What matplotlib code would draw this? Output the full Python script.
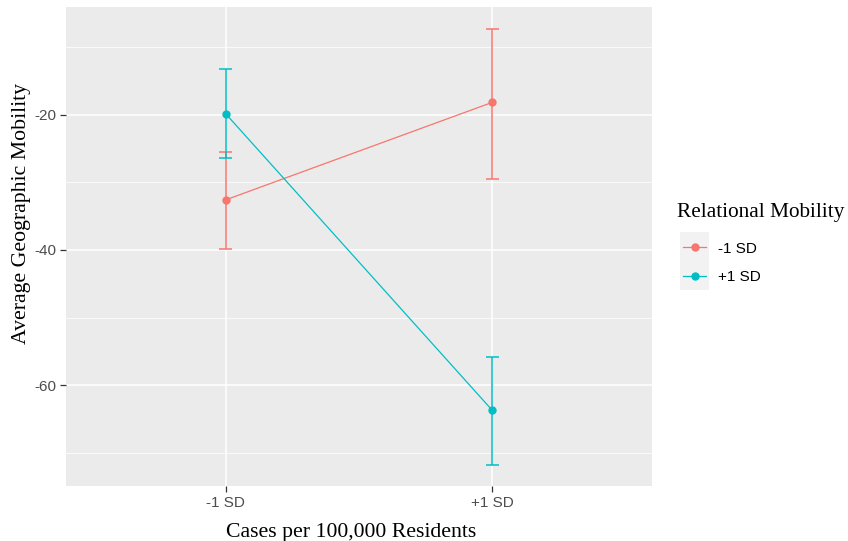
import matplotlib.pyplot as plt
import matplotlib.patches as mpatches
import numpy as np

plt.rcParams['axes.unicode_minus'] = False

# interaction plot: geographic mobility by cases and relational mobility
cases = ['-1 SD', '+1 SD']
groups = ['-1 SD', '+1 SD']
colors = ['#F8766D', '#00BFC4']

means = {
    '-1 SD': [-32.6, -18.2],
    '+1 SD': [-19.9, -63.7],
}
lower = {
    '-1 SD': [-39.9, -29.5],
    '+1 SD': [-26.4, -71.8],
}
upper = {
    '-1 SD': [-25.5, -7.3],
    '+1 SD': [-13.3, -55.9],
}

W, H = 848, 541
fig = plt.figure(figsize=(W / 100, H / 100), dpi=100)
ax = fig.add_axes([66 / W, 1 - 486 / H, (652 - 66) / W, (486 - 7) / H])
ax.set_facecolor('#EBEBEB')
for s in ax.spines.values():
    s.set_visible(False)

x = np.arange(1, len(cases) + 1)
cap = 0.025
for g, c in zip(groups, colors):
    m = np.array(means[g])
    lo = np.array(lower[g])
    hi = np.array(upper[g])
    ax.plot(x, m, color=c, lw=0.9, zorder=3)
    ax.vlines(x, lo, hi, color=c, lw=1.1, zorder=3)
    ax.hlines(lo, x - cap, x + cap, color=c, lw=1.1, zorder=3)
    ax.hlines(hi, x - cap, x + cap, color=c, lw=1.1, zorder=3)
    ax.plot(x, m, 'o', color=c, ms=5, zorder=4)

ax.set_xlim(0.4, 2.6)
ax.set_ylim(-74.9, -4.1)
ax.set_xticks(x)
ax.set_xticklabels(cases)
ax.set_yticks([-60, -40, -20])
ax.set_yticks([-70, -50, -30, -10], minor=True)
ax.grid(True, which='major', color='white', lw=1.1)
ax.grid(True, which='minor', axis='y', color='white', lw=0.55)
ax.set_axisbelow(True)
ax.tick_params(which='major', length=4, width=0.9, color='#333333',
               labelcolor='#4D4D4D', labelsize=11, pad=3)
ax.tick_params(which='minor', length=0)
for t in ax.get_xticklabels() + ax.get_yticklabels():
    t.set_fontfamily('Liberation Sans')

# axis titles placed on the figure
serif = 'Liberation Serif'
fig.text(351 / W, 1 - 537 / H, 'Cases per 100,000 Residents', family=serif,
         fontsize=15.7, ha='center', va='baseline')
fig.text(21.5 / W, 1 - 213.5 / H, 'Average Geographic Mobility', family=serif,
         fontsize=15.7, rotation=90, ha='center', va='center')

# legend drawn by hand, ggplot style
fig.text(677 / W, 1 - 213 / H, 'Relational Mobility', family=serif, fontsize=15.3,
         va='center', ha='left')
lax = fig.add_axes([680 / W, 1 - 290 / H, 29 / W, 58 / H])
lax.set_xlim(0, 1)
lax.set_ylim(0, 2)
lax.axis('off')
for i, (g, c) in enumerate(zip(groups, colors)):
    yk = 1.5 - i
    lax.add_patch(mpatches.Rectangle((0, yk - 0.5), 1, 1, color='#F2F2F2', lw=0))
    lax.plot([0.1, 0.9], [yk, yk], color=c, lw=0.9)
    lax.plot([0.5], [yk], 'o', color=c, ms=5)
    fig.text(718 / W, 1 - (249 + 28 * i) / H, g, family='Liberation Sans',
             fontsize=11, va='center', ha='left')

fig.savefig('out.png', dpi=100)
